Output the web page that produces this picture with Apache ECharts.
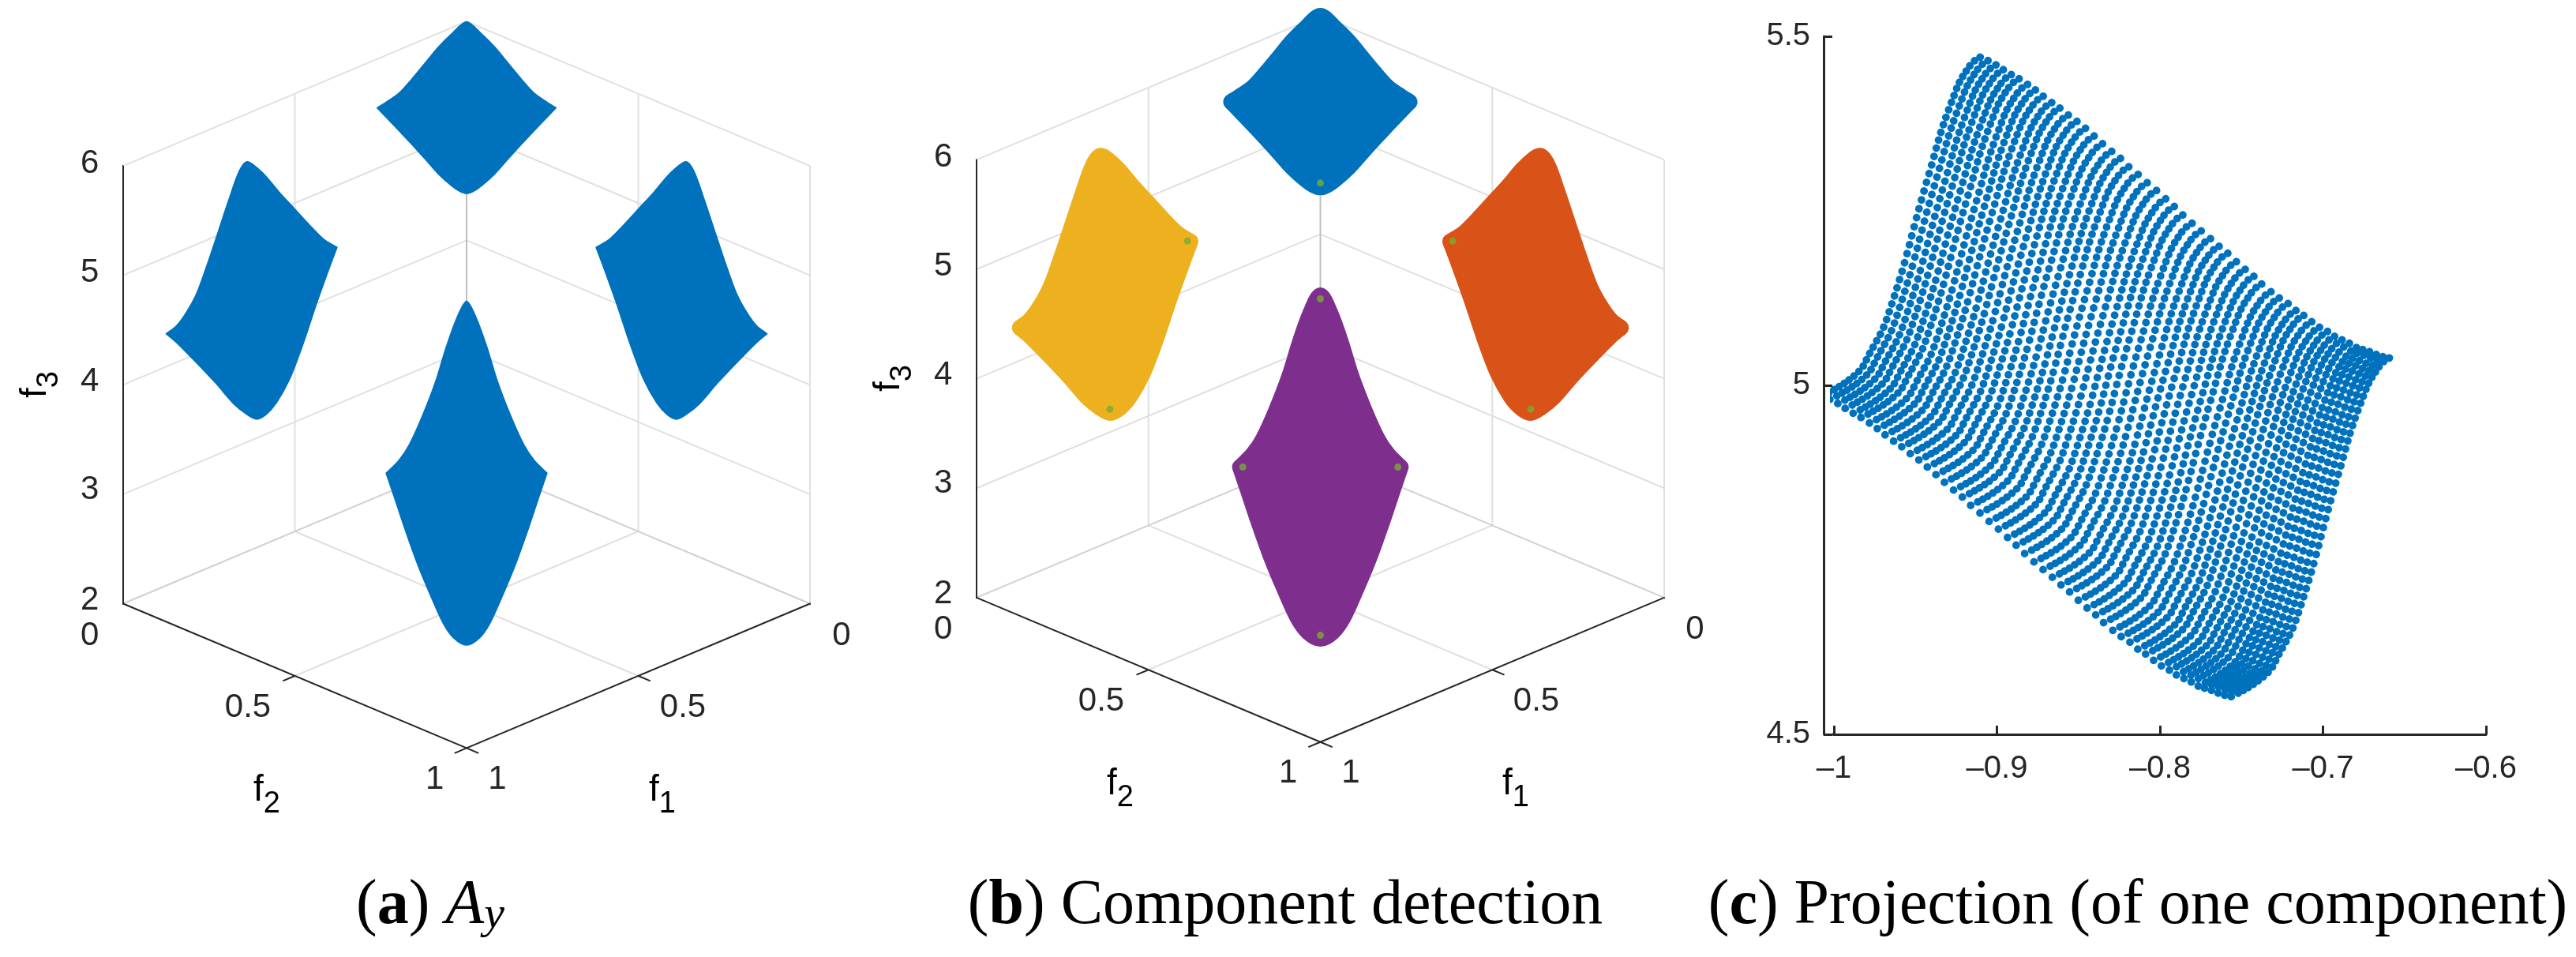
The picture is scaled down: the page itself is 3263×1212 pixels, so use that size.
<!DOCTYPE html>
<html><head><meta charset="utf-8">
<style>html,body{margin:0;padding:0;background:#fff}#c{width:3263px;height:1212px}</style>
<script src="https://cdn.jsdelivr.net/npm/echarts@6/dist/echarts.min.js"></script>
</head><body><div id="c"></div>
<script>
// Outlines of the four components in view units: [f2-f1 on the floor, height on the f3 scale]; sharp tips are listed twice
const topPart=[[0,7.316],[.0437,7.203],[.0821,7.083],[.1202,6.939],[.1586,6.794],[.197,6.662],[.2352,6.578],[.2598,6.53],[.2598,6.53],[.2345,6.448],[.197,6.325],[.1586,6.196],[.1195,6.061],[.0821,5.929],[.0437,5.82],[.0207,5.77],[0,5.748],[-.0207,5.77],[-.0437,5.82],[-.0821,5.929],[-.1195,6.061],[-.1586,6.196],[-.197,6.325],[-.2345,6.448],[-.2598,6.53],[-.2598,6.53],[-.2352,6.578],[-.197,6.662],[-.1586,6.794],[-.1202,6.939],[-.0821,7.083],[-.0437,7.203]];
const leftPart=[[-.6384,6.037],[-.5924,5.929],[-.5464,5.76],[-.5005,5.604],[-.4545,5.447],[-.4161,5.328],[-.3777,5.255],[-.3777,5.255],[-.4007,5.063],[-.4391,4.726],[-.4775,4.365],[-.5156,4.053],[-.554,3.836],[-.5846,3.728],[-.6115,3.687],[-.6384,3.728],[-.6766,3.824],[-.7303,4.017],[-.7993,4.245],[-.8453,4.39],[-.8743,4.466],[-.8743,4.466],[-.8453,4.534],[-.8145,4.666],[-.7839,4.846],[-.7533,5.111],[-.7225,5.4],[-.692,5.688],[-.6614,5.952]];
const rightPart=[[.6384,6.037],[.5924,5.929],[.5464,5.76],[.5005,5.604],[.4545,5.447],[.4161,5.328],[.3777,5.255],[.3777,5.255],[.4007,5.063],[.4391,4.726],[.4775,4.365],[.5156,4.053],[.554,3.836],[.5846,3.728],[.6115,3.687],[.6384,3.728],[.6766,3.824],[.7303,4.017],[.7993,4.245],[.8453,4.39],[.8743,4.466],[.8743,4.466],[.8453,4.534],[.8145,4.666],[.7839,4.846],[.7533,5.111],[.7225,5.4],[.692,5.688],[.6614,5.952]];
const bottomPart=[[0,4.762],[.0283,4.606],[.0591,4.341],[.0897,4.029],[.128,3.716],[.1662,3.452],[.197,3.307],[.2338,3.192],[.2338,3.192],[.2122,2.994],[.1816,2.706],[.1432,2.369],[.1051,2.081],[.0667,1.816],[.0361,1.684],[0,1.623],[-.0361,1.684],[-.0667,1.816],[-.1051,2.081],[-.1432,2.369],[-.1816,2.706],[-.2122,2.994],[-.2338,3.192],[-.2338,3.192],[-.197,3.307],[-.1662,3.452],[-.128,3.716],[-.0897,4.029],[-.0591,4.341],[-.0283,4.606]];
const detected=[[0,5.788],[-.3866,5.259],[-.6121,3.721],[.385,5.259],[.6121,3.721],[0,4.73],[-.2255,3.192],[.2255,3.192],[0,1.655]];
// Panel (c): read anchors of the 51 dot chains, from the lower-left edge to the upper-right edge
const chainX=[
[-1.0073,-.9869,-.9782,-.9661,-.9419,-.9278,-.9162,-.9075],[-1.0025,-.9821,-.9734,-.9613,-.9371,-.923,-.9114,-.9027],[-.9976,-.9772,-.9685,-.9564,-.9322,-.9181,-.9065,-.8978],[-.9931,-.9727,-.964,-.9519,-.9277,-.9136,-.902,-.8933],[-.9882,-.9678,-.9591,-.947,-.9228,-.9087,-.8971,-.8884],[-.9834,-.963,-.9543,-.9422,-.918,-.9039,-.8923,-.8836],[-.9782,-.9578,-.9491,-.937,-.9128,-.8987,-.8871,-.8784],[-.9734,-.953,-.9443,-.9322,-.908,-.8939,-.8823,-.8736],[-.9686,-.9482,-.9395,-.9274,-.9032,-.8891,-.8775,-.8688],[-.9634,-.943,-.9343,-.9222,-.898,-.8839,-.8723,-.8636],[-.9584,-.938,-.9293,-.9172,-.893,-.8789,-.8673,-.8586],
[-.9532,-.9328,-.9241,-.912,-.8878,-.8737,-.8621,-.8534],[-.9479,-.9275,-.9188,-.9067,-.8825,-.8684,-.8568,-.8481],[-.9427,-.9223,-.9136,-.9015,-.8773,-.8632,-.8516,-.8429],[-.9374,-.917,-.9083,-.8962,-.872,-.8579,-.8463,-.8376],[-.9322,-.9118,-.9031,-.891,-.8668,-.8527,-.8411,-.8324],[-.9266,-.9062,-.8975,-.8854,-.8612,-.8471,-.8355,-.8268],[-.9212,-.9008,-.8921,-.88,-.8558,-.8417,-.8301,-.8214],[-.9161,-.8957,-.887,-.8749,-.8507,-.8366,-.825,-.8163],[-.9104,-.89,-.8813,-.8692,-.845,-.8309,-.8193,-.8106],[-.9048,-.8844,-.8757,-.8636,-.8394,-.8253,-.8137,-.805],
[-.8991,-.8787,-.87,-.8579,-.8337,-.8196,-.808,-.7993],[-.8935,-.8731,-.8644,-.8523,-.8281,-.814,-.8024,-.7937],[-.8882,-.8678,-.8591,-.847,-.8228,-.8087,-.7971,-.7884],[-.883,-.8626,-.8539,-.8418,-.8176,-.8035,-.7919,-.7832],[-.8773,-.8569,-.8482,-.8361,-.8119,-.7978,-.7862,-.7775],[-.8717,-.8513,-.8426,-.8305,-.8063,-.7922,-.7806,-.7719],[-.866,-.8456,-.8369,-.8248,-.8006,-.7865,-.7749,-.7662],[-.8607,-.8403,-.8316,-.8195,-.7953,-.7812,-.7696,-.7609],[-.8554,-.835,-.8263,-.8142,-.79,-.7759,-.7643,-.7556],[-.8501,-.8297,-.821,-.8089,-.7847,-.7706,-.759,-.7503],
[-.8447,-.8243,-.8156,-.8035,-.7793,-.7652,-.7536,-.7449],[-.8394,-.819,-.8103,-.7982,-.774,-.7599,-.7483,-.7396],[-.8346,-.8142,-.8055,-.7934,-.7692,-.7551,-.7435,-.7348],[-.8289,-.8085,-.7998,-.7877,-.7635,-.7494,-.7378,-.7291],[-.8238,-.8034,-.7947,-.7826,-.7584,-.7443,-.7327,-.724],[-.8184,-.798,-.7893,-.7772,-.753,-.7389,-.7273,-.7186],[-.8136,-.7932,-.7845,-.7724,-.7482,-.7341,-.7225,-.7138],[-.8088,-.7884,-.7797,-.7676,-.7434,-.7293,-.7177,-.709],[-.8039,-.7835,-.7748,-.7627,-.7385,-.7244,-.7128,-.7041],[-.7991,-.7787,-.77,-.7579,-.7337,-.7196,-.708,-.6993],
[-.7942,-.7738,-.7651,-.753,-.7288,-.7147,-.7031,-.6944],[-.7899,-.7695,-.7608,-.7487,-.7245,-.7104,-.6988,-.6901],[-.7853,-.7649,-.7562,-.7441,-.7199,-.7058,-.6942,-.6855],[-.7808,-.7604,-.7517,-.7396,-.7154,-.7013,-.6897,-.681],[-.7765,-.7561,-.7474,-.7353,-.7111,-.697,-.6854,-.6767],[-.7726,-.7522,-.7435,-.7314,-.7072,-.6931,-.6815,-.6728],[-.7684,-.748,-.7393,-.7272,-.703,-.6889,-.6773,-.6686],[-.7643,-.7439,-.7352,-.7231,-.6989,-.6848,-.6732,-.6645],[-.7603,-.7399,-.7312,-.7191,-.6949,-.6808,-.6692,-.6605],[-.7563,-.7359,-.7272,-.7151,-.6909,-.6768,-.6652,-.6565]];
const chainY=[
[4.985,5.015,5.045,5.105,5.301,5.406,5.459,5.473],[4.98,5.01,5.04,5.1,5.296,5.401,5.454,5.468],[4.974,5.004,5.034,5.094,5.29,5.395,5.448,5.462],[4.967,4.997,5.027,5.087,5.283,5.388,5.441,5.455],[4.96,4.99,5.02,5.08,5.276,5.381,5.434,5.448],[4.954,4.984,5.014,5.074,5.27,5.375,5.428,5.442],[4.946,4.976,5.006,5.066,5.262,5.367,5.42,5.434],[4.938,4.968,4.998,5.058,5.254,5.359,5.412,5.426],[4.929,4.959,4.989,5.049,5.245,5.35,5.403,5.417],[4.92,4.95,4.98,5.04,5.236,5.341,5.394,5.408],[4.912,4.942,4.972,5.032,5.228,5.333,5.386,5.4],
[4.902,4.932,4.962,5.022,5.218,5.323,5.376,5.39],[4.893,4.923,4.953,5.013,5.209,5.314,5.367,5.381],[4.883,4.913,4.943,5.003,5.199,5.304,5.357,5.371],[4.872,4.902,4.932,4.992,5.188,5.293,5.346,5.36],[4.861,4.891,4.921,4.981,5.177,5.282,5.335,5.349],[4.85,4.88,4.91,4.97,5.166,5.271,5.324,5.338],[4.84,4.87,4.9,4.96,5.156,5.261,5.314,5.328],[4.828,4.858,4.888,4.948,5.144,5.249,5.302,5.316],[4.817,4.847,4.877,4.937,5.133,5.238,5.291,5.305],[4.805,4.835,4.865,4.925,5.121,5.226,5.279,5.293],
[4.794,4.824,4.854,4.914,5.11,5.215,5.268,5.282],[4.782,4.812,4.842,4.902,5.098,5.203,5.256,5.27],[4.771,4.801,4.831,4.891,5.087,5.192,5.245,5.259],[4.759,4.789,4.819,4.879,5.075,5.18,5.233,5.247],[4.747,4.777,4.807,4.867,5.063,5.168,5.221,5.235],[4.736,4.766,4.796,4.856,5.052,5.157,5.21,5.224],[4.725,4.755,4.785,4.845,5.041,5.146,5.199,5.213],[4.714,4.744,4.774,4.834,5.03,5.135,5.188,5.202],[4.704,4.734,4.764,4.824,5.02,5.125,5.178,5.192],[4.692,4.722,4.752,4.812,5.008,5.113,5.166,5.18],
[4.681,4.711,4.741,4.801,4.997,5.102,5.155,5.169],[4.671,4.701,4.731,4.791,4.987,5.092,5.145,5.159],[4.66,4.69,4.72,4.78,4.976,5.081,5.134,5.148],[4.649,4.679,4.709,4.769,4.965,5.07,5.123,5.137],[4.64,4.67,4.7,4.76,4.956,5.061,5.114,5.128],[4.632,4.662,4.692,4.752,4.948,5.053,5.106,5.12],[4.622,4.652,4.682,4.742,4.938,5.043,5.096,5.11],[4.615,4.645,4.675,4.735,4.931,5.036,5.089,5.103],[4.606,4.636,4.666,4.726,4.922,5.027,5.08,5.094],[4.598,4.628,4.658,4.718,4.914,5.019,5.072,5.086],
[4.592,4.622,4.652,4.712,4.908,5.013,5.066,5.08],[4.585,4.615,4.645,4.705,4.901,5.006,5.059,5.073],[4.58,4.61,4.64,4.7,4.896,5.001,5.054,5.068],[4.575,4.605,4.635,4.695,4.891,4.996,5.049,5.063],[4.569,4.599,4.629,4.689,4.885,4.99,5.043,5.057],[4.566,4.596,4.626,4.686,4.882,4.987,5.04,5.054],[4.563,4.593,4.623,4.683,4.879,4.984,5.037,5.051],[4.559,4.589,4.619,4.679,4.875,4.98,5.033,5.047],[4.556,4.586,4.616,4.676,4.872,4.977,5.03,5.044],[4.554,4.584,4.614,4.674,4.87,4.975,5.028,5.042]];
// dot-to-dot spacing read along a chain, start to end
const dotSteps=[10,7.5,7.5,7.3,7.5,8,8.3,8.8,9,9,9,9.3,9.5,10,10.2,10.3,10.4,10.6,10.8,11,11,11.2,12,11.7,11.7,12,11.8,11.7,11.7,11.7,11.5,11.3,11.3,11,11,10.7,10.3,10.3,10,10,9.9,9.3,9.3,8.7,8.7,8,8,8.7,8.3];
const xTickLabels=['\u20131','\u20130.9','\u20130.8','\u20130.7','\u20130.6'];
const yTickLabels=['4.5','5','5.5'];
const f3Ticks=['2','3','4','5','6'];
const floorTicks=['0','0.5','1'];

const INK='#262626',GRID='#e0e0e0',REAR='#bfbfbf',BLUE='#0072BD',RED='#D95319',YEL='#EDB120',PUR='#7E2F8E',GRN='#77AC30';
const SANS="'Liberation Sans',Arial,sans-serif",SERIF="'Liberation Serif',serif";
const K=1.32;
const P=(f1,f2,f3)=>[f2-f1,f3-(f1+f2-1)*K];
const series=[];
function seg(g,pts,color,width){series.push({type:'line',xAxisIndex:g,yAxisIndex:g,data:pts,showSymbol:false,silent:true,animation:false,clip:false,z:1,lineStyle:{color,width}});}
function box(g){
  [3,4,5,6].forEach(z=>{seg(g,[P(1,0,z),P(0,0,z)],GRID,2);seg(g,[P(0,1,z),P(0,0,z)],GRID,2);});
  seg(g,[P(.5,0,2),P(.5,0,6)],GRID,2);seg(g,[P(0,.5,2),P(0,.5,6)],GRID,2);seg(g,[P(0,1,2),P(0,1,6)],GRID,2);
  seg(g,[P(.5,0,2),P(.5,1,2)],GRID,2);seg(g,[P(0,.5,2),P(1,.5,2)],GRID,2);
  seg(g,[P(1,0,2),P(0,0,2)],'#d0d0d0',2);seg(g,[P(0,1,2),P(0,0,2)],'#d0d0d0',2);
  seg(g,[P(0,0,2),P(0,0,6)],REAR,2);
  seg(g,[P(1,0,2),P(1,0,6)],INK,2);seg(g,[P(1,0,2),P(1,1,2)],INK,2);seg(g,[P(0,1,2),P(1,1,2)],INK,2);
  [2,3,4,5,6].forEach(z=>seg(g,[P(1,0,z),P(1,-.035,z)],INK,2));
  [0,.5,1].forEach(t=>{seg(g,[P(1,t,2),P(1.035,t,2)],INK,2);seg(g,[P(t,1,2),P(t,1.035,2)],INK,2);});
}
function part(g,outline,color,w){series.push({type:'custom',coordinateSystem:'cartesian2d',xAxisIndex:g,yAxisIndex:g,data:[[0,0]],silent:true,animation:false,z:3,
  renderItem:(p,api)=>({type:'polygon',shape:{points:outline.map(q=>api.coord(q)),smooth:.3},style:{fill:color,stroke:color,lineWidth:w,lineJoin:'round'}})});}
box(0);box(1);
[topPart,leftPart,rightPart,bottomPart].forEach(o=>part(0,o,BLUE,2));
part(1,topPart,BLUE,20);part(1,leftPart,YEL,20);part(1,rightPart,RED,20);part(1,bottomPart,PUR,20);
series.push({type:'scatter',xAxisIndex:1,yAxisIndex:1,data:detected,symbolSize:9,silent:true,animation:false,z:5,itemStyle:{color:GRN}});

const dash=[];dotSteps.forEach(s=>dash.push(0.01,s));dash.push(0.01,400);
chainX.forEach((xs,k)=>{
  series.push({type:'line',xAxisIndex:2,yAxisIndex:2,data:xs.map((x,i)=>[x,chainY[k][i]]),smooth:true,showSymbol:false,silent:true,animation:false,clip:false,z:3,
    lineStyle:{color:BLUE,width:9.8,cap:'round',type:dash}});
});
series.push({type:'line',xAxisIndex:2,yAxisIndex:2,data:[[-1.0063,4.5],[-1,4.5]],showSymbol:false,silent:true,animation:false,clip:false,z:2,lineStyle:{color:INK,width:3}});

// text
const g=[];
const T=(x,y,text,size)=>g.push({type:'text',x,y,silent:true,style:{text,fill:INK,font:size+'px '+SANS,align:'center',verticalAlign:'middle'}});
const sub={m:{fontSize:46,fontFamily:SANS,color:INK,padding:[0,0,18,0]},s:{fontSize:38,fontFamily:SANS,color:INK,padding:[18,0,0,0]}};
function panelText(dx,dy){
  [[207,'6'],[345,'5'],[483,'4'],[620,'3'],[760.6,'2']].forEach((a,i)=>T(113.6+dx,a[0]+dy,f3Ticks[4-i],42));
  [[113.6,805],[314,896],[550.7,987]].forEach((a,i)=>T(a[0]+dx,a[1]+dy,floorTicks[i],42));
  [[1066,805],[865,896],[630,987]].forEach((a,i)=>T(a[0]+dx,a[1]+dy,floorTicks[i],42));
  const ft=(x,y,n,rot)=>g.push({type:'text',x:x+dx,y:y+dy,rotation:rot||0,silent:true,style:{text:'{m|f}{s|'+n+'}',rich:sub,align:'center',verticalAlign:'middle'}});
  ft(338,1010,2);ft(839,1010,1);ft(54,487,3,Math.PI/2);
}
panelText(0,0);panelText(1081,-8);
const capRich={b:{fontFamily:SERIF,fontWeight:'bold',fontSize:80,color:'#111'},n:{fontFamily:SERIF,fontSize:80,color:'#111'},i:{fontFamily:SERIF,fontStyle:'italic',fontSize:80,color:'#111'},y:{fontFamily:SERIF,fontStyle:'italic',fontSize:58,color:'#111',padding:[24,0,0,0]}};
const cap=(x,text)=>g.push({type:'text',x,y:1148,silent:true,style:{text,rich:capRich,align:'center',verticalAlign:'middle'}});
cap(545,'{n|(}{b|a}{n|) }{i|A}{y|y}');
cap(1628,'{n|(}{b|b}{n|) Component detection}');
cap(2708,'{n|(}{b|c}{n|) Projection (of one component)}');

const hidden=(i,min,max)=>({gridIndex:i,type:'value',show:false,min,max});
const ax={axisLine:{show:true,onZero:false,lineStyle:{color:INK,width:3}},axisTick:{show:true,inside:true,length:11,lineStyle:{color:INK,width:3}},splitLine:{show:false}};
const option={animation:false,backgroundColor:'#fff',
  grid:[{left:156,width:870,top:2.2,height:970.2},{left:1237,width:871,top:8.4,height:956.3},{left:2323,width:826,top:46,height:884}],
  xAxis:[hidden(0,-1,1),hidden(1,-1,1),Object.assign({gridIndex:2,type:'value',min:-1,max:-.6,interval:.1,axisLabel:{fontFamily:SANS,fontSize:40,color:INK,margin:24,hideOverlap:false,formatter:(v)=>xTickLabels[Math.round((v+1)*10)]}},ax)],
  yAxis:[hidden(0,.5,7.5),hidden(1,.5,7.4),Object.assign({gridIndex:2,type:'value',min:4.5,max:5.5,interval:.5,offset:13,axisLabel:{fontFamily:SANS,fontSize:40,color:INK,margin:17,formatter:(v)=>yTickLabels[Math.round((v-4.5)*2)]}},ax)],
  series,graphic:{elements:g}};
echarts.init(document.getElementById('c'),null,{renderer:'canvas'}).setOption(option);
</script></body></html>
